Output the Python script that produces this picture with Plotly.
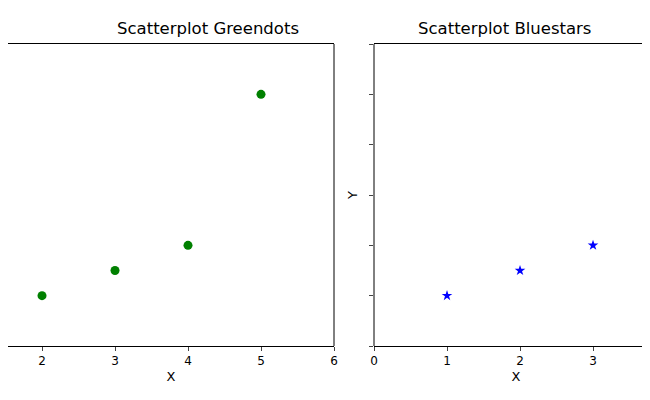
import plotly.graph_objects as go

green_x = [2, 3, 4, 5]
green_y = [1, 1.5, 2, 5]
blue_x = [1, 2, 3]
blue_y = [1, 1.5, 2]
ticks = [0, 1, 2, 3, 4, 5, 6]

fig = go.Figure()
fig.add_trace(go.Scatter(x=green_x, y=green_y, mode="markers",
                         marker=dict(color="green", size=9), xaxis="x", yaxis="y"))
fig.add_trace(go.Scatter(x=blue_x, y=blue_y, mode="markers",
                         marker=dict(color="blue", size=8, symbol="star"), xaxis="x2", yaxis="y2"))

axfont = dict(family="DejaVu Sans", size=12, color="black")
common_x = dict(showgrid=False, zeroline=False, showline=True, mirror=True, linecolor="black",
                ticks="outside", ticklen=4, tickvals=ticks, tickfont=axfont, automargin=False,
                title=dict(text="X", font=dict(family="DejaVu Sans", size=13, color="black"), standoff=4))
fig.update_layout(
    width=650, height=400, showlegend=False, autosize=False,
    paper_bgcolor="white", plot_bgcolor="white",
    margin=dict(l=0, r=0, t=36, b=62, pad=0),
    xaxis=dict(domain=[0, 326/650], range=[1.534, 6], **common_x),
    xaxis2=dict(domain=[366/650, 1], range=[0, 3.89], **common_x),
    yaxis=dict(range=[0, 6], showgrid=False, zeroline=False, showticklabels=False,
               anchor="x", automargin=False),
    yaxis2=dict(range=[0, 6], showgrid=False, zeroline=False, showticklabels=False,
                ticks="outside", ticklen=4, tickvals=ticks, anchor="x2", automargin=False,
                title=dict(text="Y", font=dict(family="DejaVu Sans", size=13, color="black"), standoff=8)),
    shapes=[
        dict(type="line", xref="x domain", yref="y domain", x0=1, x1=1, y0=0, y1=1,
             line=dict(color="black", width=1)),
        dict(type="line", xref="x2 domain", yref="y2 domain", x0=0, x1=0, y0=0, y1=1,
             line=dict(color="black", width=1)),
    ],
    annotations=[
        dict(text="Scatterplot Greendots", x=107/650, y=1, xref="paper", yref="paper",
             yanchor="bottom", yshift=4, showarrow=False,
             font=dict(family="DejaVu Sans", size=16.5, color="black")),
        dict(text="Scatterplot Bluestars", x=585/650, y=1, xref="paper", yref="paper",
             yanchor="bottom", yshift=4, showarrow=False,
             font=dict(family="DejaVu Sans", size=16.5, color="black")),
    ],
)
fig.write_html("out.html")
